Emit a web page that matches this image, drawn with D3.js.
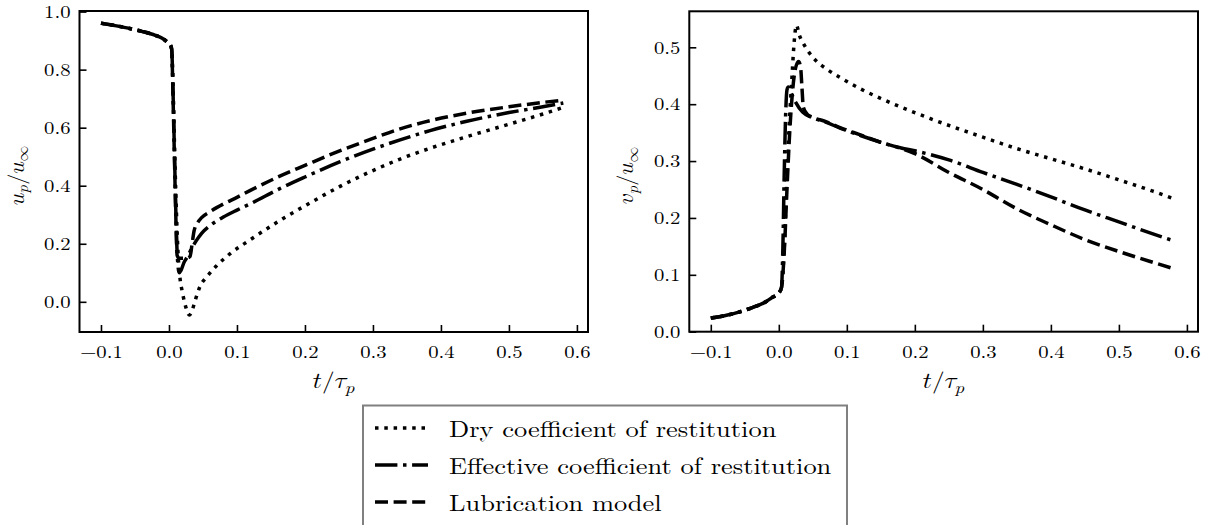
<!DOCTYPE html>
<html><head><meta charset="utf-8">
<script src="https://cdn.jsdelivr.net/npm/d3@7"></script>
<style>body{margin:0;background:#fff}svg{display:block}</style>
</head><body>
<svg id="c" width="1210" height="525"></svg>
<script>
const xTicks = [-0.1, 0.0, 0.1, 0.2, 0.3, 0.4, 0.5, 0.6];
const uTicks = [0.0, 0.2, 0.4, 0.6, 0.8, 1.0];
const vTicks = [0.0, 0.1, 0.2, 0.3, 0.4, 0.5];
const seriesNames = ["Dry coefficient of restitution", "Effective coefficient of restitution", "Lubrication model"];

const uPrefix = [[-0.1,0.96],[-0.08,0.952],[-0.06,0.943],[-0.04,0.932],[-0.02,0.918],[-0.01,0.908],[-0.003,0.896],[0.002,0.885],[0.004,0.87]];
const uDry = [[0.006,0.74],[0.008,0.55],[0.010,0.38],[0.012,0.24],[0.014,0.14],[0.016,0.086],[0.02,0.03],[0.025,-0.02],[0.03,-0.045],[0.034,-0.03],[0.038,0.0],[0.042,0.03],[0.046,0.055],[0.055,0.084],[0.07,0.124],[0.09,0.166],[0.119,0.213],[0.163,0.28],[0.207,0.34],[0.251,0.397],[0.296,0.448],[0.34,0.492],[0.384,0.529],[0.438,0.569],[0.5,0.612],[0.55,0.647],[0.58,0.67]];
const uEff = [[0.006,0.72],[0.008,0.52],[0.010,0.32],[0.012,0.17],[0.015,0.10],[0.018,0.11],[0.022,0.135],[0.027,0.155],[0.033,0.182],[0.04,0.21],[0.048,0.236],[0.06,0.262],[0.08,0.292],[0.1,0.316],[0.119,0.337],[0.163,0.39],[0.2,0.43],[0.251,0.482],[0.3,0.526],[0.34,0.558],[0.384,0.59],[0.438,0.622],[0.5,0.652],[0.55,0.672],[0.58,0.685]];
const uLub = [[0.006,0.7],[0.008,0.5],[0.010,0.3],[0.012,0.16],[0.015,0.15],[0.025,0.15],[0.031,0.156],[0.034,0.2],[0.037,0.245],[0.042,0.272],[0.048,0.29],[0.06,0.31],[0.08,0.337],[0.1,0.36],[0.119,0.383],[0.163,0.433],[0.2,0.47],[0.251,0.52],[0.3,0.563],[0.34,0.596],[0.384,0.624],[0.438,0.65],[0.5,0.672],[0.55,0.687],[0.58,0.695]];

const vPrefix = [[-0.1,0.024],[-0.08,0.028],[-0.06,0.034],[-0.04,0.042],[-0.02,0.052],[-0.01,0.06],[0.0,0.068],[0.004,0.078]];
const vDry = [[0.008,0.15],[0.012,0.28],[0.016,0.38],[0.019,0.44],[0.022,0.5],[0.026,0.539],[0.03,0.522],[0.036,0.507],[0.045,0.49],[0.056,0.475],[0.07,0.462],[0.09,0.447],[0.12,0.427],[0.15,0.41],[0.222,0.375],[0.3,0.342],[0.355,0.32],[0.4,0.304],[0.448,0.287],[0.5,0.267],[0.55,0.247],[0.58,0.234]];
const vEff = [[0.006,0.15],[0.008,0.28],[0.010,0.38],[0.012,0.425],[0.014,0.43],[0.018,0.42],[0.024,0.405],[0.035,0.386],[0.046,0.378],[0.05,0.376],[0.07,0.368],[0.09,0.358],[0.12,0.345],[0.15,0.333],[0.18,0.323],[0.2,0.318],[0.25,0.302],[0.3,0.28],[0.35,0.259],[0.4,0.237],[0.45,0.214],[0.5,0.193],[0.55,0.172],[0.58,0.16]];
const vLub = [[0.008,0.14],[0.012,0.25],[0.016,0.35],[0.02,0.42],[0.024,0.46],[0.029,0.475],[0.032,0.465],[0.034,0.43],[0.036,0.395],[0.042,0.382],[0.05,0.377],[0.07,0.369],[0.09,0.359],[0.12,0.346],[0.15,0.333],[0.18,0.322],[0.2,0.313],[0.25,0.28],[0.3,0.25],[0.35,0.216],[0.4,0.188],[0.45,0.162],[0.5,0.141],[0.55,0.122],[0.58,0.111]];

const dashes = ["3.5 5.8", "22.4 5.6 3.5 5.6", "13 5.6"];
const svg = d3.select("#c");
const RM = '"Latin Modern Roman", "Liberation Serif", serif';
const MATH = '"Latin Modern Math", "Latin Modern Roman", "Liberation Serif", serif';
const SX = 1.15;
const fmt = d => (d < 0 ? "\u2212" : "") + Math.abs(d).toFixed(1);

function mathLabel(parent, x, y, rot, main, sub, main2, sub2) {
  const g = parent.append("g").attr("transform", `translate(${x},${y}) rotate(${rot}) scale(${rot ? 1 : SX},1)`);
  const t = g.append("text").attr("text-anchor", "middle").style("font-family", MATH).attr("font-size", 22).attr("fill", "#000");
  t.append("tspan").text(main);
  t.append("tspan").attr("font-size", 15.5).attr("dy", 4.5).text(sub);
  if (main2) {
    t.append("tspan").attr("dy", -4.5).text(main2);
    t.append("tspan").attr("font-size", 15.5).attr("dy", 4.5).text(sub2);
  }
}

function panel(left, right, top, bottom, yDomain, yTicks, series, yMain) {
  const x = d3.scaleLinear().domain([-0.1316, 0.6163]).range([left, right]);
  const y = d3.scaleLinear().domain(yDomain).range([bottom, top]);
  const g = svg.append("g");
  const line = d3.line().x(d => x(d[0])).y(d => y(d[1])).curve(d3.curveMonotoneX);
  series.forEach((s, i) => {
    g.append("path").datum(s).attr("d", line).attr("fill", "none")
      .attr("stroke", "#000").attr("stroke-width", 3.5)
      .attr("stroke-dasharray", dashes[i]).attr("stroke-linecap", "butt");
  });
  const ax = g.append("g").attr("transform", `translate(0,${bottom})`)
    .call(d3.axisBottom(x).tickValues(xTicks).tickFormat(fmt).tickSizeInner(-7).tickSizeOuter(0));
  const ay = g.append("g").attr("transform", `translate(${left},0)`)
    .call(d3.axisLeft(y).tickValues(yTicks).tickFormat(fmt).tickSizeInner(-7).tickSizeOuter(0));
  [ax, ay].forEach(a => {
    a.select(".domain").remove();
    a.selectAll(".tick line").attr("stroke", "#000").attr("stroke-width", 1.6);
    a.selectAll(".tick text").style("font-family", RM).attr("font-size", 18).attr("fill", "#000")
      .attr("transform", `scale(${SX},1)`);
  });
  ax.selectAll(".tick text").attr("y", 26).attr("dy", 0);
  ay.selectAll(".tick text").attr("x", -9 / SX).attr("dy", "0.32em");
  g.append("rect").attr("x", left).attr("y", top).attr("width", right - left).attr("height", bottom - top)
    .attr("fill", "none").attr("stroke", "#000").attr("stroke-width", 2);
  mathLabel(g, (left + right) / 2, 388, 0, "\u{1D461}/\u{1D70F}", "\u{1D45D}");
  mathLabel(g, left - 56, (top + bottom) / 2 + 4, -90, yMain, "\u{1D45D}", "/\u{1D462}", "\u221E");
}

panel(79.5, 588, 11, 332, [-0.104, 1.002], uTicks,
  [uPrefix.concat(uDry), uPrefix.concat(uEff), uPrefix.concat(uLub)], "\u{1D462}");
panel(689.3, 1198, 11.3, 331.7, [0, 0.5633], vTicks,
  [vPrefix.concat(vDry), vPrefix.concat(vEff), vPrefix.concat(vLub)], "\u{1D463}");

const lg = svg.append("g");
lg.append("rect").attr("x", 363).attr("y", 405.5).attr("width", 484).attr("height", 140)
  .attr("fill", "#fff").attr("stroke", "#808080").attr("stroke-width", 2);
seriesNames.forEach((name, i) => {
  const yy = 428 + i * 37;
  lg.append("line").attr("x1", 375).attr("x2", 428).attr("y1", yy).attr("y2", yy)
    .attr("stroke", "#000").attr("stroke-width", 3.5).attr("stroke-dasharray", dashes[i]);
  lg.append("g").attr("transform", `translate(449,${yy + 9}) scale(${SX},1)`)
    .append("text").style("font-family", RM).attr("font-size", 23).attr("fill", "#000").text(name);
});
</script>
</body></html>
